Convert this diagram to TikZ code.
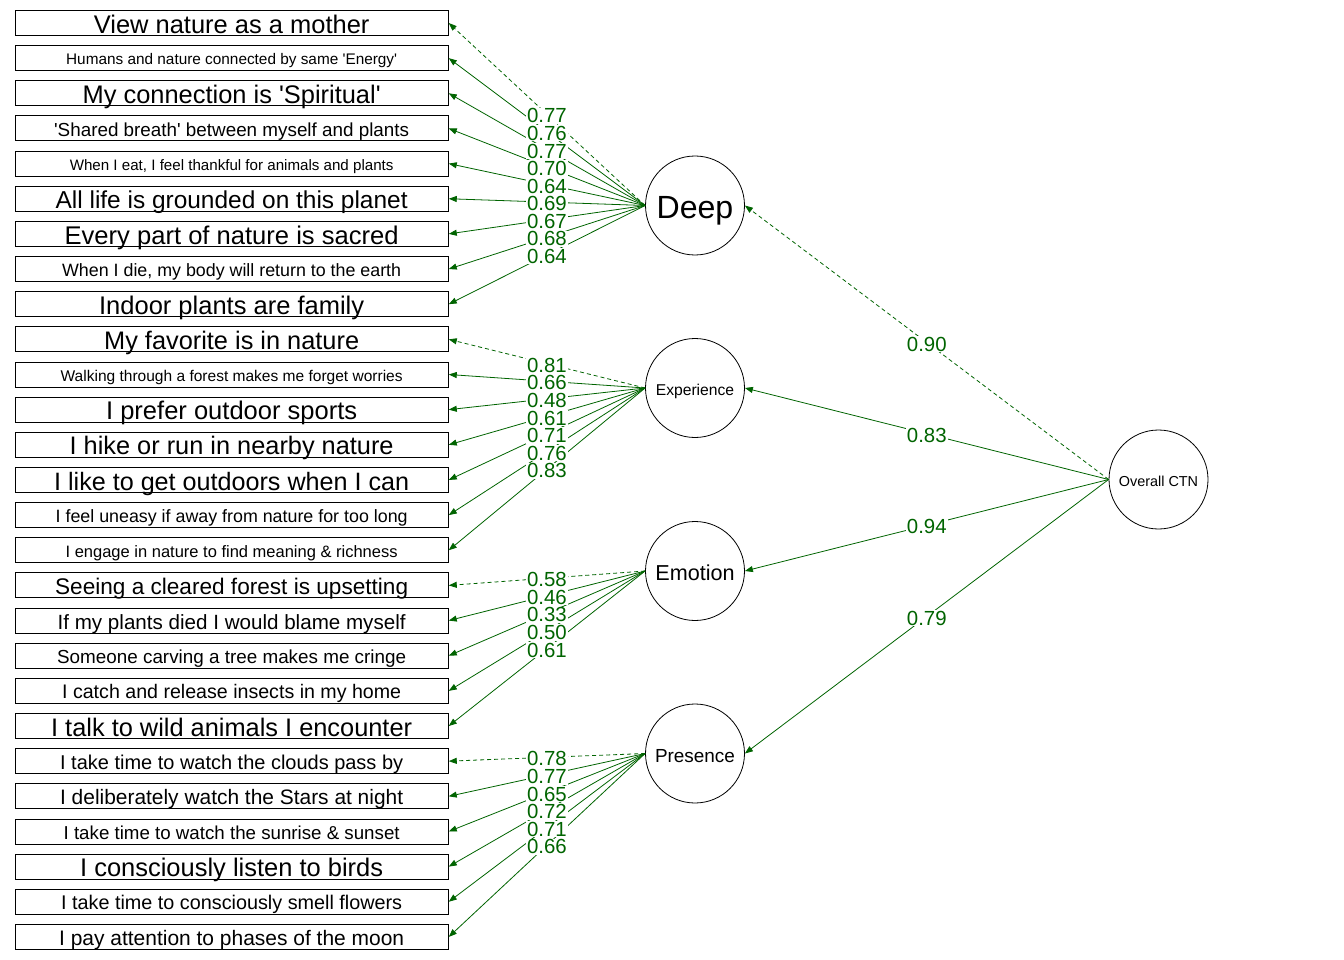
\documentclass[tikz,border=0pt]{standalone}
\usepackage{fontspec}
\setmainfont{Liberation Sans}
\usepackage{graphicx}
\usetikzlibrary{arrows.meta,calc}
\definecolor{eg}{RGB}{0,100,0}
\newcommand\fitw[3][2]{\raisebox{0pt}[\dimexpr\height+#1pt\relax][0pt]{\resizebox{#2pt}{!}{\fontsize{20}{24}\selectfont #3}}}
\newcommand\q{\textquotesingle}
\begin{document}
\begin{tikzpicture}[x=1pt,y=-1pt,
 itembox/.style={draw=black,line width=0.9pt,minimum width=433.3pt,minimum height=25pt,inner sep=0pt},
 latent/.style={circle,draw=black,line width=0.8pt,minimum size=99pt,inner sep=0pt},
 edge/.style={draw=eg,line width=0.8pt,-{Triangle[length=8pt,width=6pt]}},
 dashedge/.style={edge,dash pattern=on 4pt off 3pt},
 lab/.style={fill=white,text=eg,inner sep=1pt,text depth=0pt,yshift=-1.5pt,font=\fontsize{20.4}{20.4}\selectfont}]
\useasboundingbox[fill=white] (0,0) rectangle (1344,960);

% indicator boxes
\node[itembox] (i1) at (231.65,23) {\fitw{275.6}{View nature as a mother}};
\node[itembox] (i2) at (231.65,58.15) {\fitw{331}{Humans and nature connected by same \q Energy\q}};
\node[itembox] (i3) at (231.65,93.3) {\fitw{298}{My connection is \q Spiritual\q}};
\node[itembox] (i4) at (231.65,128.45) {\fitw{355}{\q Shared breath\q{} between myself and plants}};
\node[itembox] (i5) at (231.65,163.6) {\fitw{323.7}{When I eat, I feel thankful for animals and plants}};
\node[itembox] (i6) at (231.65,198.75) {\fitw{352}{All life is grounded on this planet}};
\node[itembox] (i7) at (231.65,233.9) {\fitw{334}{Every part of nature is sacred}};
\node[itembox] (i8) at (231.65,269.05) {\fitw{339}{When I die, my body will return to the earth}};
\node[itembox] (i9) at (231.65,304.2) {\fitw{265}{Indoor plants are family}};
\node[itembox] (i10) at (231.65,339.35) {\fitw{255}{My favorite is in nature}};
\node[itembox] (i11) at (231.65,374.5) {\fitw{342}{Walking through a forest makes me forget worries}};
\node[itembox] (i12) at (231.65,409.65) {\fitw{251}{I prefer outdoor sports}};
\node[itembox] (i13) at (231.65,444.8) {\fitw{324}{I hike or run in nearby nature}};
\node[itembox] (i14) at (231.65,479.95) {\fitw{355}{I like to get outdoors when I can}};
\node[itembox] (i15) at (231.65,515.1) {\fitw{352}{I feel uneasy if away from nature for too long}};
\node[itembox] (i16) at (231.65,550.25) {\fitw{332}{I engage in nature to find meaning \& richness}};
\node[itembox] (i17) at (231.65,585.4) {\fitw{353}{Seeing a cleared forest is upsetting}};
\node[itembox] (i18) at (231.65,620.55) {\fitw{348}{If my plants died I would blame myself}};
\node[itembox] (i19) at (231.65,655.7) {\fitw{349}{Someone carving a tree makes me cringe}};
\node[itembox] (i20) at (231.65,690.85) {\fitw{339}{I catch and release insects in my home}};
\node[itembox] (i21) at (231.65,726) {\fitw{361}{I talk to wild animals I encounter}};
\node[itembox] (i22) at (231.65,761.15) {\fitw{343}{I take time to watch the clouds pass by}};
\node[itembox] (i23) at (231.65,796.3) {\fitw{343}{I deliberately watch the Stars at night}};
\node[itembox] (i24) at (231.65,831.45) {\fitw{336}{I take time to watch the sunrise \& sunset}};
\node[itembox] (i25) at (231.65,866.6) {\fitw{303}{I consciously listen to birds}};
\node[itembox] (i26) at (231.65,901.75) {\fitw{341}{I take time to consciously smell flowers}};
\node[itembox] (i27) at (231.65,936.9) {\fitw{345}{I pay attention to phases of the moon}};

% latent variables
\node[latent] (deep) at (695,205.5) {\fitw[4]{76.7}{Deep}};
\node[latent] (exp) at (695,388) {\fitw[4]{78.3}{Experience}};
\node[latent] (emo) at (695,571) {\fitw[4]{79.3}{Emotion}};
\node[latent] (pre) at (695,753.5) {\fitw[4]{80}{Presence}};
\node[latent] (ctn) at (1158.5,479.5) {\fitw[4]{79.3}{Overall CTN}};

% edges
\draw[dashedge] (deep.west) -- (i1.east);
\foreach \i in {2,...,9} {\draw[edge] (deep.west) -- (i\i.east);}
\draw[dashedge] (exp.west) -- (i10.east);
\foreach \i in {11,...,16} {\draw[edge] (exp.west) -- (i\i.east);}
\draw[dashedge] (emo.west) -- (i17.east);
\foreach \i in {18,...,21} {\draw[edge] (emo.west) -- (i\i.east);}
\draw[dashedge] (pre.west) -- (i22.east);
\foreach \i in {23,...,27} {\draw[edge] (pre.west) -- (i\i.east);}
\draw[dashedge] (ctn.west) -- (deep.east);
\draw[edge] (ctn.west) -- (exp.east);
\draw[edge] (ctn.west) -- (emo.east);
\draw[edge] (ctn.west) -- (pre.east);

% labels
\foreach \i/\v in {1/0.77,2/0.76,3/0.77,4/0.70,5/0.64,6/0.69,7/0.67,8/0.68,9/0.64}
  {\node[lab] at ($(deep.west)!0.5!(i\i.east)$) {\v};}
\foreach \i/\v in {10/0.81,11/0.66,12/0.48,13/0.61,14/0.71,15/0.76,16/0.83}
  {\node[lab] at ($(exp.west)!0.5!(i\i.east)$) {\v};}
\foreach \i/\v in {17/0.58,18/0.46,19/0.33,20/0.50,21/0.61}
  {\node[lab] at ($(emo.west)!0.5!(i\i.east)$) {\v};}
\foreach \i/\v in {22/0.78,23/0.77,24/0.65,25/0.72,26/0.71,27/0.66}
  {\node[lab] at ($(pre.west)!0.5!(i\i.east)$) {\v};}
\foreach \n/\v in {deep/0.90,exp/0.83,emo/0.94,pre/0.79}
  {\node[lab] at ($(ctn.west)!0.5!(\n.east)$) {\v};}
\end{tikzpicture}
\end{document}
